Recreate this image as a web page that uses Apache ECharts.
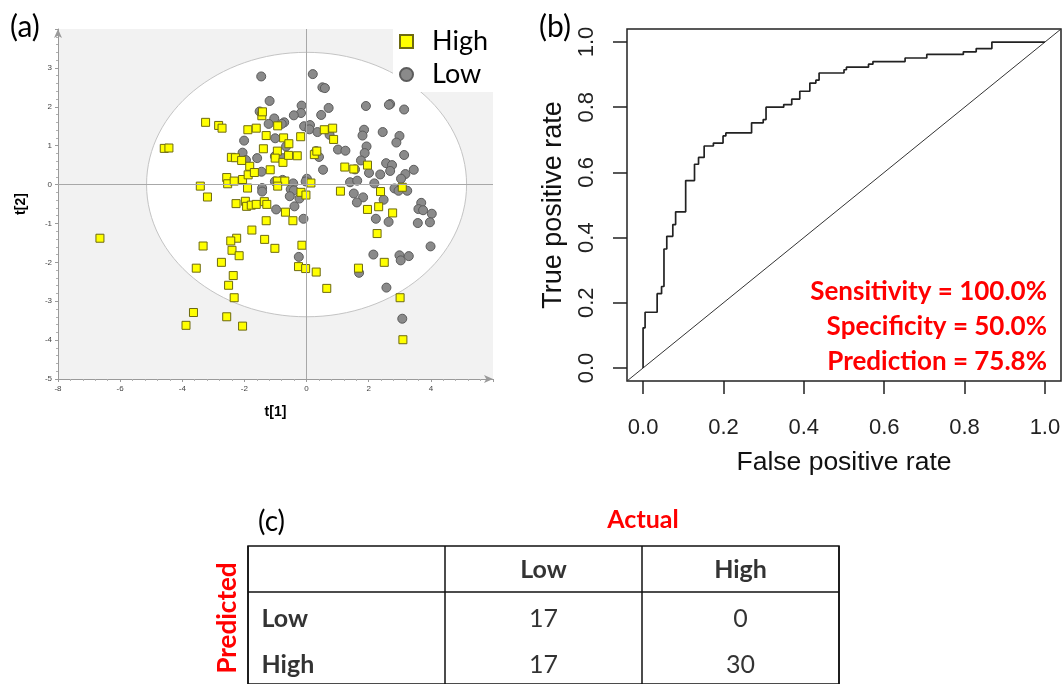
<!DOCTYPE html>
<html>
<head>
<meta charset="utf-8">
<script src="https://cdn.jsdelivr.net/npm/echarts@6/dist/echarts.min.js"></script>
<style>
  html, body { margin: 0; background: #fff; }
  #main { width: 1064px; height: 684px; }
</style>
</head>
<body>
<div id="main"></div>
<script>
// (a) score plot, t[1] vs t[2]
const highPoints = [
  [-6.65, -1.38], [-4.58, 0.93], [-4.43, 0.94], [-3.25, 1.6], [-2.83, 1.52], [-2.72, 1.45],
  [-3.42, -0.04], [-3.19, -0.32], [-2.42, 0.7], [-2.29, 0.69], [-2.57, 0.18], [-2.54, 0.02],
  [-2.33, 0.09], [-2.09, 0.62], [-2.06, 0.13], [-1.89, 1.41], [-1.62, 1.45], [-1.44, 1.77],
  [-1.42, 1.87], [-1.39, 0.92], [-1.3, 1.26], [-1.83, 0.47], [-1.88, 0.25], [-1.68, 0.31],
  [-1.17, 0.38], [-1.9, -0.09], [-2.27, -0.49], [-1.97, -0.43], [-1.93, -0.56], [-1.78, -0.53],
  [-1.62, -0.51], [-1.36, -0.44], [-1.28, -0.51], [-0.93, 1.51], [-0.74, 1.2], [-0.57, 1.05],
  [-0.94, 0.86], [-1.01, 0.68], [-0.76, 0.57], [-0.58, 0.75], [-0.3, 0.74], [-0.19, 1.23],
  [-0.94, 0.09], [-0.7, 0.09], [-0.93, -0.04], [-0.68, -0.71], [-0.44, -0.93], [-1.3, -0.93],
  [-1.76, -1.17], [-1.35, -1.41], [-1.02, -1.64], [-2.25, -1.38], [-2.44, -1.45], [-2.4, -1.69],
  [-2.17, -1.83], [-3.33, -1.58], [-3.55, -2.15], [-2.74, -2.0], [-2.36, -2.34], [-2.51, -2.59],
  [-2.33, -2.91], [-3.64, -3.29], [-3.88, -3.62], [-2.57, -3.4], [-2.06, -3.64], [-0.15, -1.56],
  [-0.26, -2.11], [-0.03, -2.16], [0.31, -2.25], [0.65, -2.67], [-0.18, -0.2], [-0.02, -0.27],
  [0.14, 0.04], [0.25, 0.77], [0.33, 0.86], [0.57, 1.41], [0.84, 1.45], [0.87, 1.16],
  [1.23, 0.45], [1.52, 0.4], [1.09, -0.17], [1.96, 0.5], [2.38, -0.18], [1.96, -0.64],
  [2.32, -0.57], [2.77, -0.73], [2.27, -1.26], [2.5, -2.0], [1.67, -2.15], [3.01, -2.91],
  [3.1, -3.99], [3.08, -0.07]
];
const lowPoints = [
  [-1.46, 2.78], [0.2, 2.84], [0.51, 2.5], [0.59, 2.48], [-1.19, 2.15], [-0.16, 2.03],
  [-0.18, 1.84], [-0.41, 1.78], [0.71, 1.97], [0.47, 1.79], [1.91, 2.02], [2.69, 2.07],
  [2.65, 2.05], [3.14, 1.93], [-1.51, 1.88], [-1.04, 1.7], [-1.22, 1.56], [-0.72, 1.6],
  [-0.8, 1.56], [-0.08, 1.5], [0.11, 1.53], [0.09, 1.42], [0.35, 1.35], [0.74, 1.28],
  [1.85, 1.41], [1.8, 1.26], [2.45, 1.35], [2.99, 1.25], [2.89, 1.08], [3.14, 0.76],
  [-2.01, 1.13], [-1.01, 1.19], [-0.66, 0.98], [-2.06, 0.82], [-1.59, 0.68], [-1.95, 0.63],
  [-1.02, 0.73], [-0.77, 0.68], [1.01, 0.9], [1.25, 0.87], [0.31, 0.86], [0.4, 0.71],
  [1.93, 0.98], [1.87, 0.81], [1.75, 0.62], [2.56, 0.55], [2.75, 0.5], [2.69, 0.35],
  [2.37, 0.26], [3.18, 0.27], [3.45, 0.38], [1.56, 0.39], [2.01, 0.3], [0.53, 0.38],
  [-1.45, 0.33], [0.01, 0.15], [-0.03, 0.08], [-1.02, 0.08], [-0.77, 0.12], [-0.43, 0.03],
  [-1.43, -0.09], [-1.43, -0.18], [-0.51, -0.12], [-0.41, -0.15], [-0.54, -0.3], [-0.23, -0.36],
  [-0.39, -0.56], [-0.98, -0.64], [-0.1, -0.88], [1.4, 0.06], [1.63, 0.1], [2.18, 0.03],
  [1.52, -0.23], [1.82, -0.33], [1.62, -0.46], [2.48, -0.39], [2.83, -0.1], [2.96, -0.16],
  [3.24, -0.16], [3.04, 0.15], [2.23, -0.88], [2.64, -0.96], [3.69, -0.47], [3.6, -0.63],
  [3.75, -0.66], [4.03, -0.75], [3.58, -0.99], [3.97, -0.97], [3.99, -1.59], [2.15, -1.8],
  [2.99, -1.82], [3.03, -1.95], [3.29, -1.84], [1.69, -2.27], [2.57, -2.65], [3.08, -3.45],
  [-0.25, -1.86]
];
const ellipseCenter = [0, 0];
const ellipseRadii = [5.15, 3.4];

// (b) ROC curve
const rocFpr = [0, 0, 0.005, 0.035, 0.046, 0.052, 0.059, 0.074, 0.081, 0.106, 0.128, 0.138,
  0.152, 0.175, 0.199, 0.206, 0.27, 0.299, 0.306, 0.35, 0.37, 0.39, 0.415, 0.43, 0.438, 0.5,
  0.506, 0.561, 0.572, 0.652, 0.706, 0.797, 0.829, 0.868, 1.0];
const rocTpr = [0, 0.123, 0.171, 0.228, 0.25, 0.365, 0.404, 0.44, 0.479, 0.575, 0.625, 0.646,
  0.681, 0.69, 0.712, 0.721, 0.752, 0.762, 0.8, 0.808, 0.825, 0.849, 0.874, 0.883, 0.905, 0.915,
  0.923, 0.932, 0.94, 0.951, 0.962, 0.97, 0.98, 1.0, 1.0];
const diagFpr = [-0.04, 1.04];
const diagTpr = [-0.04, 1.04];
const rocTicks = [0, 0.2, 0.4, 0.6, 0.8, 1.0];
const scoreLines = ["Sensitivity = 100.0%", "Specificity = 50.0%", "Prediction = 75.8%"];

// (c) confusion table
const tableCols = ["Low", "High"];
const tableRows = ["Low", "High"];
const tableCounts = [[17, 0], [17, 30]];

const zip = (xs, ys) => xs.map((x, i) => [x, ys[i]]);
const sans = "Liberation Sans";
const cal = "Lato";

const chart = echarts.init(document.getElementById("main"));

const headerCells = tableCols.map((c, j) => [j + 1.5, 0.5, c]);
const rowCells = tableRows.map((r, i) => [0, i + 1.5, r]);
const countCells = [];
tableCounts.forEach((row, i) => row.forEach((v, j) => countCells.push([j + 1.5, i + 1.5, String(v)])));

function textSeries(data, label) {
  return {
    type: "scatter", xAxisIndex: 2, yAxisIndex: 2, data: data,
    symbolSize: 1, itemStyle: { color: "rgba(0,0,0,0)" }, silent: true,
    label: Object.assign({ show: true, position: "inside", formatter: p => p.value[2], color: "#000",
      fontFamily: cal, fontSize: 25 }, label)
  };
}

chart.setOption({
  animation: false,
  legend: {
    data: ["High", "Low"], orient: "vertical", left: 393, top: 26,
    backgroundColor: "#fff", padding: [2, 8, 4, 6], itemWidth: 13, itemHeight: 13, itemGap: 6,
    textStyle: { fontFamily: cal, fontSize: 27, color: "#000", padding: [0, 0, 0, 14] }
  },
  grid: [
    { left: 58, top: 29, width: 435, height: 350, show: true, backgroundColor: "#f2f2f2", borderWidth: 0 },
    { left: 627, top: 29, width: 434, height: 352, show: true, borderColor: "#222", borderWidth: 1.5 },
    { left: 248, top: 546, width: 591, height: 144, show: true, borderColor: "#111", borderWidth: 1.5 }
  ],
  xAxis: [
    {
      gridIndex: 0, type: "value", min: -8, max: 6, interval: 2,
      axisLine: { show: true, onZero: false, symbol: ["none", "arrow"], symbolSize: [6, 9], lineStyle: { color: "#9a9a9a" } },
      axisTick: { show: true, length: 3, lineStyle: { color: "#9a9a9a" } },
      minorTick: { show: true, splitNumber: 5, length: 2, lineStyle: { color: "#b0b0b0" } },
      axisLabel: { fontSize: 8, color: "#444", margin: 6, formatter: v => (v === 6 ? "" : v) },
      splitLine: { show: false },
      name: "t[1]", nameLocation: "middle", nameGap: 26,
      nameTextStyle: { fontFamily: sans, fontWeight: "bold", fontSize: 14, color: "#000" }
    },
    {
      gridIndex: 1, type: "value", min: -0.04, max: 1.04,
      axisLine: { show: false, onZero: false },
      axisTick: { show: true, length: 13, customValues: rocTicks, lineStyle: { color: "#222", width: 1.5 } },
      axisLabel: { customValues: rocTicks, formatter: v => v.toFixed(1), fontFamily: sans, fontSize: 22, color: "#222", margin: 36 },
      splitLine: { show: false },
      name: "False positive rate", nameLocation: "middle", nameGap: 68,
      nameTextStyle: { fontFamily: sans, fontSize: 26.5, color: "#111" }
    },
    {
      gridIndex: 2, type: "value", min: 0, max: 3, interval: 1,
      axisLine: { show: false }, axisTick: { show: false }, axisLabel: { show: false },
      splitLine: { show: true, lineStyle: { color: "#111", width: 1.5 } }
    }
  ],
  yAxis: [
    {
      gridIndex: 0, type: "value", min: -5, max: 4, interval: 1,
      axisLine: { show: true, onZero: false, symbol: ["none", "arrow"], symbolSize: [6, 9], lineStyle: { color: "#9a9a9a" } },
      axisTick: { show: true, length: 3, lineStyle: { color: "#9a9a9a" } },
      minorTick: { show: true, splitNumber: 5, length: 2, lineStyle: { color: "#b0b0b0" } },
      axisLabel: { fontSize: 8, color: "#444", margin: 6, formatter: v => (v === 4 ? "" : v) },
      splitLine: { show: false },
      name: "t[2]", nameLocation: "middle", nameGap: 30,
      nameTextStyle: { fontFamily: sans, fontWeight: "bold", fontSize: 14, color: "#000" }
    },
    {
      gridIndex: 1, type: "value", min: -0.04, max: 1.04,
      axisLine: { show: false, onZero: false },
      axisTick: { show: true, length: 14, customValues: rocTicks, lineStyle: { color: "#222", width: 1.5 } },
      axisLabel: { customValues: rocTicks, formatter: v => v.toFixed(1), rotate: 90, fontFamily: sans, fontSize: 22, color: "#222", margin: 29 },
      splitLine: { show: false },
      name: "True positive rate", nameLocation: "middle", nameGap: 60,
      nameTextStyle: { fontFamily: sans, fontSize: 27, color: "#111" }
    },
    {
      gridIndex: 2, type: "value", min: 0, max: 3, inverse: true,
      axisLine: { show: false }, axisTick: { show: false }, axisLabel: { show: false },
      splitLine: { show: false }
    }
  ],
  series: [
    {
      type: "custom", xAxisIndex: 0, yAxisIndex: 0, z: 1, silent: true,
      data: [ellipseCenter.concat(ellipseRadii)],
      renderItem: (params, api) => {
        const c = api.coord([api.value(0), api.value(1)]);
        const e = api.coord([api.value(0) + api.value(2), api.value(1) + api.value(3)]);
        return {
          type: "ellipse",
          shape: { cx: c[0], cy: c[1], rx: e[0] - c[0], ry: c[1] - e[1] },
          style: { fill: "#fff", stroke: "#c4c4c4", lineWidth: 1 }
        };
      },
      markLine: {
        silent: true, symbol: "none", label: { show: false },
        lineStyle: { color: "#a8a8a8", type: "solid", width: 1 },
        data: [{ xAxis: 0 }, { yAxis: 0 }]
      }
    },
    {
      name: "High", type: "scatter", xAxisIndex: 0, yAxisIndex: 0, z: 4,
      symbol: "rect", symbolSize: 8, data: highPoints,
      itemStyle: { color: "#ffff00", borderColor: "#6e6a10", borderWidth: 1, opacity: 1 }
    },
    {
      name: "Low", type: "scatter", xAxisIndex: 0, yAxisIndex: 0, z: 3,
      symbol: "circle", symbolSize: 9, data: lowPoints,
      itemStyle: { color: "#8a8a8a", borderColor: "#5c5c5c", borderWidth: 1, opacity: 1 }
    },
    {
      type: "line", xAxisIndex: 1, yAxisIndex: 1, data: zip(diagFpr, diagTpr),
      showSymbol: false, silent: true, lineStyle: { color: "#333", width: 1 }
    },
    {
      type: "line", xAxisIndex: 1, yAxisIndex: 1, data: zip(rocFpr, rocTpr), step: "end",
      showSymbol: false, silent: true, lineStyle: { color: "#222", width: 1.7 }
    },
    Object.assign(textSeries(headerCells, { fontWeight: "bold", offset: [0, 1] }), {
      markLine: {
        silent: true, symbol: "none", label: { show: false },
        lineStyle: { color: "#111", type: "solid", width: 1.5 },
        data: [{ yAxis: 1 }]
      }
    }),
    textSeries(rowCells, { fontWeight: "bold", position: "right", distance: 13, offset: [0, 4] }),
    textSeries(countCells, { offset: [0, 4] })
  ],
  graphic: [
    { type: "text", x: 10, y: 27, style: { text: "(a)", font: "30px Lato", fill: "#000", verticalAlign: "middle" } },
    { type: "text", x: 539, y: 27, style: { text: "(b)", font: "30px Lato", fill: "#000", verticalAlign: "middle" } },
    { type: "text", x: 258, y: 522, style: { text: "(c)", font: "28px Lato", fill: "#000", verticalAlign: "middle" } },
    { type: "text", x: 643, y: 520, style: { text: "Actual", font: "bold 25px Lato", fill: "#ff0000", align: "center", verticalAlign: "middle" } },
    { type: "text", x: 228, y: 618, rotation: Math.PI / 2, style: { text: "Predicted", font: "bold 26px Lato", fill: "#ff0000", align: "center", verticalAlign: "middle" } }
  ].concat(scoreLines.map((t, i) => ({
    type: "text", x: 1047, y: 292 + i * 35,
    style: { text: t, font: "bold 26px Lato", fill: "#ff0000", align: "right", verticalAlign: "middle" }
  })))
});
</script>
</body>
</html>
